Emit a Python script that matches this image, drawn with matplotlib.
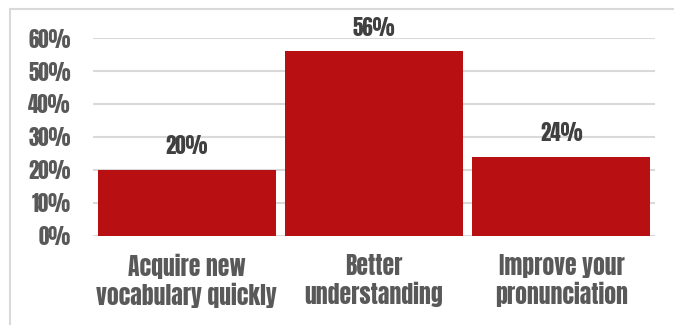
import matplotlib
matplotlib.use('Agg')
import matplotlib.pyplot as plt
from matplotlib.patches import Rectangle
from matplotlib.ticker import PercentFormatter

# survey results
categories = ['Acquire new\nvocabulary quickly', 'Better\nunderstanding', 'Improve your\npronunciation']
shares = [0.20, 0.56, 0.24]
yticks = [0, 0.1, 0.2, 0.3, 0.4, 0.5, 0.6]

plt.rcParams['font.family'] = 'Anton'

fig = plt.figure(figsize=(6.74, 3.25), dpi=100)
ax = fig.add_axes([0.138, 0.274, 0.834, 0.609])

# light frame round the chart
fig.patches.append(Rectangle((10 / 674, -0.1), 1.2, 1 - 9 / 325 + 0.1,
                             transform=fig.transFigure, fill=False,
                             edgecolor='#d9d9d9', linewidth=1.5))

x = range(len(categories))
bars = ax.bar(x, shares, width=0.95, color='#b80f12', zorder=2)

for b, v in zip(bars, shares):
    ax.annotate(f'{v:.0%}', (b.get_x() + b.get_width() / 2, v),
                xytext=(0, 17), textcoords='offset points',
                ha='center', va='center', fontsize=15, color='#404040')

ax.set_xlim(-0.5, 2.5)
ax.set_ylim(0, 0.6)
ax.set_yticks(yticks)
ax.yaxis.set_major_formatter(PercentFormatter(1.0, decimals=0))
ax.set_xticks(list(x))
ax.set_xticklabels(categories, linespacing=1.15)
ax.tick_params(axis='y', length=0, pad=16, labelsize=15, labelcolor='#595959')
ax.tick_params(axis='x', length=0, pad=13, labelsize=17, labelcolor='#595959')
ax.grid(axis='y', color='#d9d9d9', linewidth=1.5, zorder=0)
for s in ax.spines.values():
    s.set_visible(False)

fig.savefig('out.png')
